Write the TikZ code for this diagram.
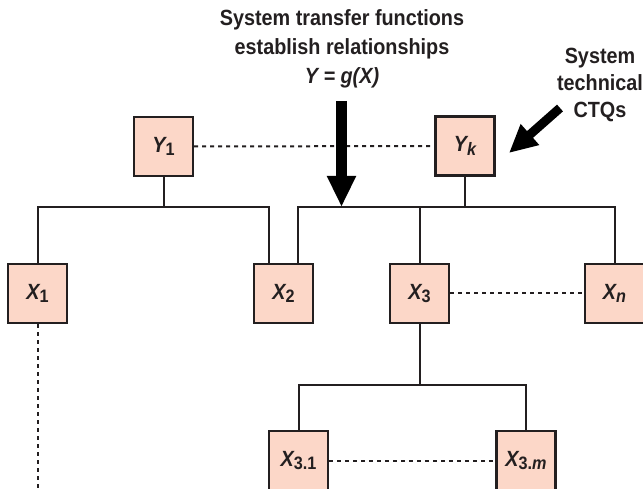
\documentclass[tikz,border=0pt]{standalone}
\usepackage{fontspec}
\setmainfont{Liberation Sans}[FakeStretch=0.9]
\usetikzlibrary{arrows.meta, positioning}
\definecolor{boxfill}{HTML}{FCD7C8}
\definecolor{ink}{HTML}{231F20}
\newcommand{\subidx}[1]{\raisebox{-3.5pt}{\fontsize{18}{18}\selectfont #1}}

\begin{document}
\begin{tikzpicture}[x=1pt, y=-1pt, color=ink,
      var/.style={draw=ink, line width=2.2pt, fill=boxfill, minimum width=59pt,
                  minimum height=59pt, inner sep=0pt,
                  font=\fontsize{22}{22}\selectfont\bfseries\itshape},
      link/.style={draw=ink, line width=2pt},
      dots/.style={draw=ink, line width=2pt, dash pattern=on 4pt off 4pt},
      bigarrow/.style={draw=black, line width=11pt, -{Triangle[length=31pt, width=27pt]}},
      note/.style={align=center, text=ink, font=\fontsize{22}{29}\selectfont\bfseries}]
    \useasboundingbox (0,0) rectangle (643,489);
    \coordinate (ybar) at (0,207);
    \coordinate (lowbar) at (0,385);
    % outputs
    \node[var] (y1) at (163.5,146.5) {Y\subidx{\upshape 1}};
    \node[var] (yk) at (465,146)     {Y\subidx{k}};
    % inputs
    \node[var] (x1) at (37.5,293.5)  {X\subidx{\upshape 1}};
    \node[var] (x2) at (283.5,293.5) {X\subidx{\upshape 2}};
    \node[var] (x3) at (419.5,293.5) {X\subidx{\upshape 3}};
    \node[var] (xn) at (614.5,293.5) {X\subidx{n}};
    \node[var] (x31) at (298.5,460.5) {X\subidx{\upshape 3.1}};
    \node[var] (x3m) at (526,460.5)   {X\subidx{{\upshape 3.}m}};
    \coordinate (x2a) at ([xshift=-14.5pt]x2.north);
    \coordinate (x2b) at ([xshift=14.5pt]x2.north);
    \coordinate (x1end) at (37.5,489);
    % tree links
    \draw[link] (y1) -- (y1 |- ybar);
    \draw[link] (yk) -- (yk |- ybar);
    \draw[link] (x1) |- (x2a |- ybar) -- (x2a);
    \draw[link] (x2b) |- (xn |- ybar) -- (xn);
    \draw[link] (x3) -- (x3 |- ybar);
    \draw[link] (x3) -- (x3 |- lowbar);
    \draw[link] (x31) |- (x3m |- lowbar) -- (x3m);
    % dotted links
    \draw[dots] (y1) -- (yk);
    \draw[dots] (x3) -- (xn);
    \draw[dots] (x31) -- (x3m);
    \draw[dots] (x1) -- (x1end);
    % labels and arrows
    \node[note] (gfun) at (342,49) {System transfer functions\\establish relationships\\\itshape Y = g(X)};
    \node[note, font=\fontsize{22}{27}\selectfont\bfseries] (ctq) at (600,85) {System\\technical\\CTQs};
    \coordinate (gtop) at (341.5,101);
    \draw[bigarrow] (gtop) -- (gtop |- ybar);
    \coordinate (ctqtail) at (560,108);
    \coordinate (ctqtip) at (509,153);
    \draw[bigarrow, line width=9pt, -{Triangle[length=28pt, width=26pt]}] (ctqtail) -- (ctqtip);
  \end{tikzpicture}
\end{document}
